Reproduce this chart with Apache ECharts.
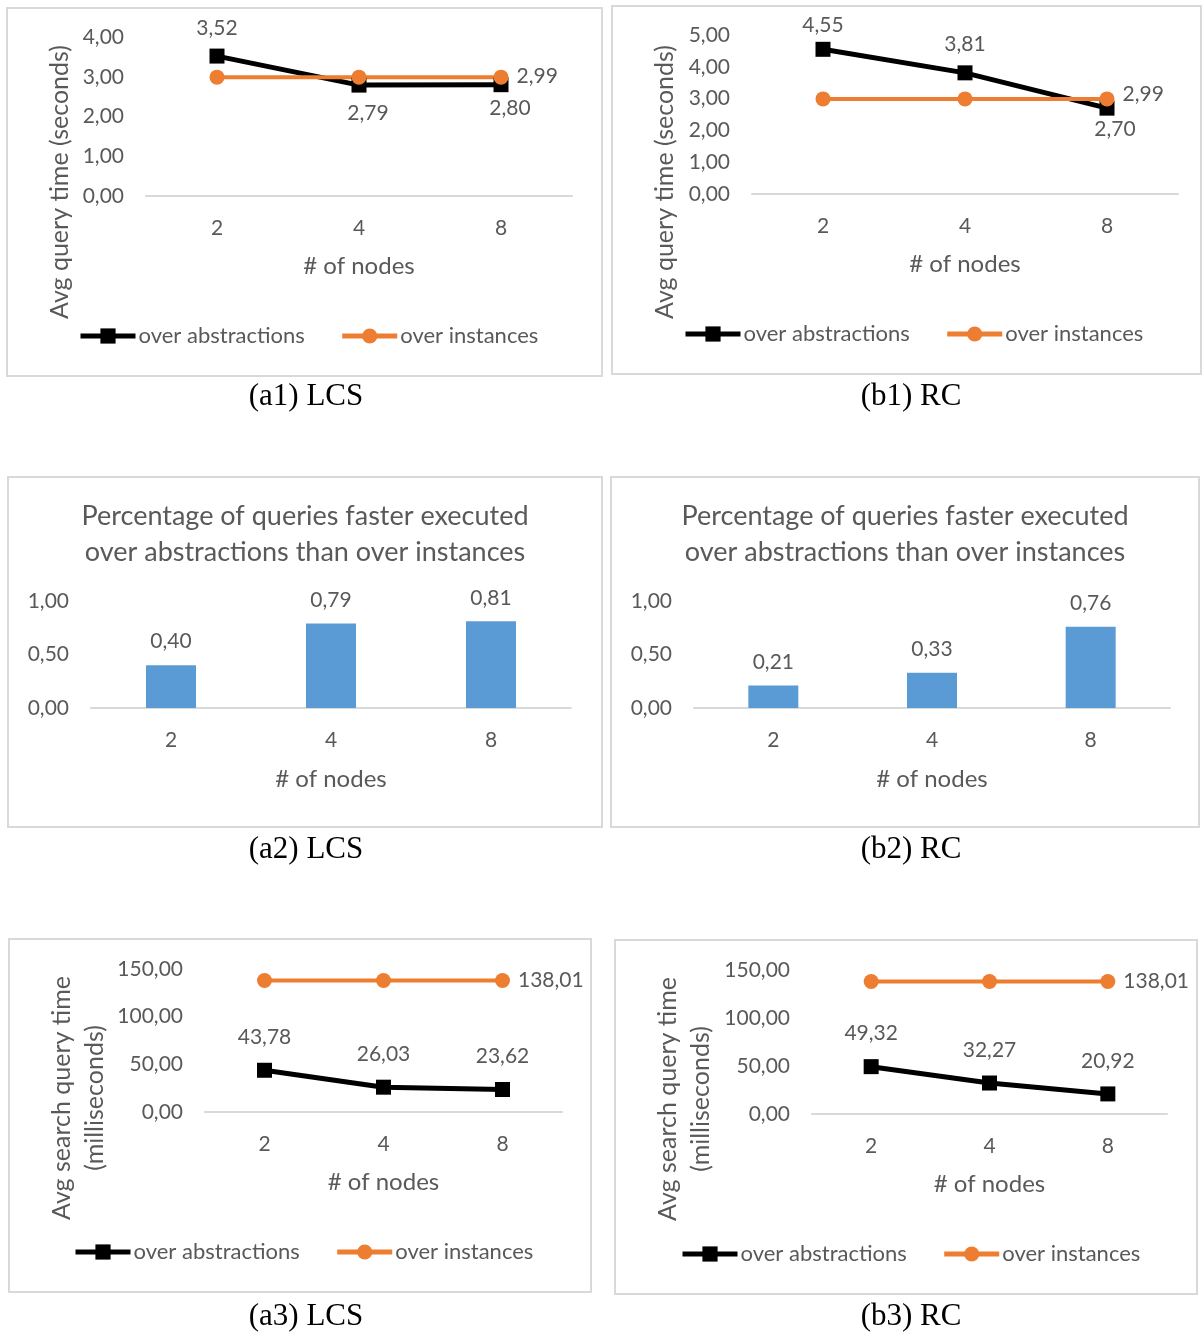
<!DOCTYPE html>
<html>
<head>
<meta charset="utf-8">
<script src="https://cdn.jsdelivr.net/npm/echarts@6/dist/echarts.min.js"></script>
<style>
  html, body { margin: 0; padding: 0; background: #ffffff; }
  #chart { width: 1203px; height: 1332px; }
</style>
</head>
<body>
<div id="chart"></div>
<script>
// ---------- data ----------
const categories = ['2', '4', '8'];
const seriesNames = ['over abstractions', 'over instances'];

const a1Abstractions = [3.52, 2.79, 2.80];
const a1Instances = [2.99, 2.99, 2.99];
const a1YTicks = [0, 1, 2, 3, 4];

const b1Abstractions = [4.55, 3.81, 2.70];
const b1Instances = [2.99, 2.99, 2.99];
const b1YTicks = [0, 1, 2, 3, 4, 5];

const a2Faster = [0.40, 0.79, 0.81];
const a2YTicks = [0, 0.5, 1];

const b2Faster = [0.21, 0.33, 0.76];
const b2YTicks = [0, 0.5, 1];

const a3Abstractions = [43.78, 26.03, 23.62];
const a3Instances = [138.01, 138.01, 138.01];
const a3YTicks = [0, 50, 100, 150];

const b3Abstractions = [49.32, 32.27, 20.92];
const b3Instances = [138.01, 138.01, 138.01];
const b3YTicks = [0, 50, 100, 150];

const barTitle = 'Percentage of queries faster executed\nover abstractions than over instances';
const xName = '# of nodes';
const yNameSeconds = 'Avg query time (seconds)';
const yNameMs = 'Avg search query time\n(milliseconds)';
const captions = ['(a1) LCS', '(b1) RC', '(a2) LCS', '(b2) RC', '(a3) LCS', '(b3) RC'];

// ---------- style ----------
const FONT = 'Lato, "Open Sans", sans-serif';
const TXT = '#595959';
const AXIS = '#d9d9d9';
const BLACK = '#000000';
const ORANGE = '#ED7D31';
const BLUE = '#5B9BD5';
const fmt = v => Number(v).toFixed(2).replace('.', ',');

// panel layout
const panels = [
  { box: [7, 8, 595, 368],   grid: [146, 37, 426, 159], ticks: a1YTicks, cap: [306, 397], yname: [60, 182, yNameSeconds], legend: [78, 326] },
  { box: [612, 6, 589, 368], grid: [752, 35, 426, 159], ticks: b1YTicks, cap: [911, 397], yname: [665, 182, yNameSeconds], legend: [683, 324] },
  { box: [8, 477, 594, 350], grid: [91, 601, 480, 107], ticks: a2YTicks, cap: [306, 850], title: [305, 534] },
  { box: [611, 477, 588, 350], grid: [694, 601, 476, 107], ticks: b2YTicks, cap: [911, 850], title: [905, 534] },
  { box: [9, 939, 582, 353], grid: [205, 969, 357, 143], ticks: a3YTicks, cap: [306, 1317], yname: [78, 1098, yNameMs], legend: [73, 1242] },
  { box: [615, 940, 582, 354], grid: [812, 970, 355, 144], ticks: b3YTicks, cap: [911, 1317], yname: [684, 1099, yNameMs], legend: [680, 1244] }
];

const grids = [], xAxes = [], yAxes = [], series = [], legends = [], graphics = [];

panels.forEach((p, i) => {
  const [gl, gt, gw, gh] = p.grid;
  grids.push({ left: gl, top: gt, width: gw, height: gh, containLabel: false });
  xAxes.push({
    type: 'category', gridIndex: i, data: categories, boundaryGap: true,
    axisLine: { show: true, lineStyle: { color: AXIS, width: 2 } },
    axisTick: { show: false },
    axisLabel: { color: TXT, fontFamily: FONT, fontSize: 21, margin: 22 },
    name: xName, nameLocation: 'middle', nameGap: (i === 2 || i === 3) ? 59 : 58,
    nameTextStyle: { color: TXT, fontFamily: FONT, fontSize: 24 }
  });
  const t = p.ticks;
  yAxes.push({
    type: 'value', gridIndex: i, min: t[0], max: t[t.length - 1], interval: t[1] - t[0],
    axisLine: { show: false }, axisTick: { show: false }, splitLine: { show: false },
    axisLabel: { color: TXT, fontFamily: FONT, fontSize: 21, margin: 22, formatter: v => fmt(v) }
  });
  const [bx, by, bw, bh] = p.box;
  graphics.push({ type: 'rect', shape: { x: bx, y: by, width: bw, height: bh }, style: { fill: 'none', stroke: AXIS, lineWidth: 2 }, silent: true });
  graphics.push({ type: 'text', x: p.cap[0], y: p.cap[1], style: { text: captions[i], font: '31px "Liberation Serif", "Times New Roman", serif', fill: '#000', textAlign: 'center', textVerticalAlign: 'middle' } });
  if (p.yname) {
    graphics.push({ type: 'text', x: p.yname[0], y: p.yname[1], rotation: Math.PI / 2,
      style: { text: p.yname[2], font: '25px ' + FONT, fill: TXT, textAlign: 'center', textVerticalAlign: 'middle', lineHeight: 33 } });
  }
  if (p.title) {
    graphics.push({ type: 'text', x: p.title[0], y: p.title[1],
      style: { text: barTitle, font: '27px ' + FONT, fill: TXT, textAlign: 'center', textVerticalAlign: 'middle', lineHeight: 36 } });
  }
  if (p.legend) {
    legends.push({
      left: p.legend[0], top: p.legend[1] - 1, orient: 'horizontal', padding: 0,
      itemWidth: 55, itemHeight: 19, itemGap: 35,
      lineStyle: { width: 5 },
      textStyle: { color: TXT, fontFamily: FONT, fontSize: 22, padding: [0, 0, 0, -2] },
      data: seriesNames.map(n => n + '#' + i),
      formatter: n => n.split('#')[0]
    });
  }
});

function lineSeries(gi, name, values, color, symbol, width, positions, distance, offsets) {
  return {
    type: 'line', name: name + '#' + gi, xAxisIndex: gi, yAxisIndex: gi,
    symbol: symbol, symbolSize: 15, showAllSymbol: true,
    lineStyle: { color: color, width: width }, itemStyle: { color: color },
    data: values.map((v, k) => ({
      value: v,
      label: positions[k] ? { show: true, position: positions[k], distance: distance, offset: offsets ? offsets[k] : [0, 0] } : { show: false }
    })),
    label: { color: TXT, fontFamily: FONT, fontSize: 21, formatter: p => fmt(p.value) },
    emphasis: { disabled: true }, animation: false
  };
}
function barSeries(gi, values) {
  return {
    type: 'bar', name: 'faster#' + gi, xAxisIndex: gi, yAxisIndex: gi, barWidth: 50,
    itemStyle: { color: BLUE }, data: values,
    label: { show: true, position: 'top', distance: 13, color: TXT, fontFamily: FONT, fontSize: 21, formatter: p => fmt(p.value) },
    emphasis: { disabled: true }, animation: false
  };
}

// a1
series.push(lineSeries(0, seriesNames[0], a1Abstractions, BLACK, 'rect', 5, ['top', 'bottom', 'bottom'], 10, [[0, 0], [9, 0], [9, -4]]));
series.push(lineSeries(0, seriesNames[1], a1Instances, ORANGE, 'circle', 4, [null, null, 'right'], 8, [null, null, [0, -1]]));
// b1
series.push(lineSeries(1, seriesNames[0], b1Abstractions, BLACK, 'rect', 5, ['top', 'top', 'bottom'], 6, [[0, 0], [0, -5], [8, -3]]));
series.push(lineSeries(1, seriesNames[1], b1Instances, ORANGE, 'circle', 4, [null, null, 'right'], 8, [null, null, [0, -5]]));
// a2, b2
series.push(barSeries(2, a2Faster));
series.push(barSeries(3, b2Faster));
// a3
series.push(lineSeries(4, seriesNames[0], a3Abstractions, BLACK, 'rect', 5, ['top', 'top', 'top'], 15));
series.push(lineSeries(4, seriesNames[1], a3Instances, ORANGE, 'circle', 4, [null, null, 'right'], 8));
// b3
series.push(lineSeries(5, seriesNames[0], b3Abstractions, BLACK, 'rect', 5, ['top', 'top', 'top'], 15));
series.push(lineSeries(5, seriesNames[1], b3Instances, ORANGE, 'circle', 4, [null, null, 'right'], 8));

const chart = echarts.init(document.getElementById('chart'), null, { renderer: 'canvas' });
chart.setOption({
  backgroundColor: '#ffffff',
  animation: false,
  textStyle: { fontFamily: FONT },
  grid: grids, xAxis: xAxes, yAxis: yAxes, series: series, legend: legends,
  graphic: graphics
});
</script>
</body>
</html>
